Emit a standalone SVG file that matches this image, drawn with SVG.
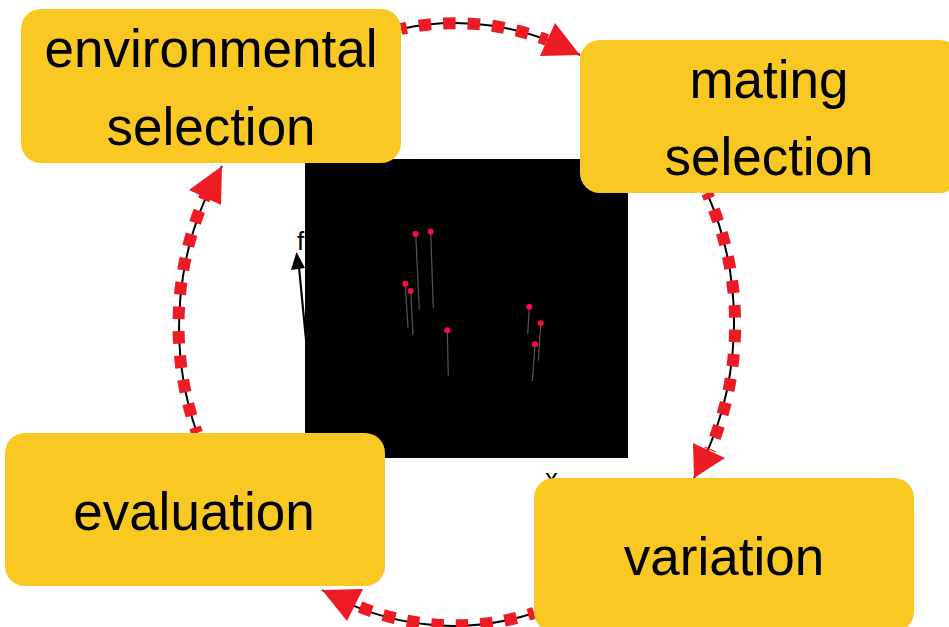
<svg xmlns="http://www.w3.org/2000/svg" width="949" height="627" viewBox="0 0 949 627">
<style>
.box{fill:#F9C822;}
.lbl{font-family:"Liberation Sans",Arial,sans-serif;font-size:53px;fill:#000;text-anchor:middle;}
.ax{font-family:"Liberation Sans",Arial,sans-serif;font-size:26px;fill:#000;}
.line{fill:none;stroke:#000;stroke-width:2;}
.dash{fill:none;stroke:#ED1C24;stroke-width:12;stroke-dasharray:12.5 12;stroke-dashoffset:6.5;}
.head{fill:#ED1C24;}
.stem{stroke:#555;stroke-width:1.2;}
.dot{fill:#FF0844;}
</style>
<rect width="949" height="627" fill="#fff"/>
<g id="connectors">
  <path class="line" d="M401,29 A278,301 0 0 1 580,55"/>
  <path class="dash" d="M401,29 A278,301 0 0 1 547,40"/>
  <polygon class="head" points="580,55 555,23 540,56"/>

  <path class="line" d="M707,193 A278,301 0 0 1 694,478"/>
  <path class="dash" d="M707,193 A278,301 0 0 1 710,450"/>
  <polygon class="head" points="694,478 693,443 725,458"/>

  <path class="line" d="M534,613 A278,301 0 0 1 322,590"/>
  <path class="dash" d="M534,613 A278,301 0 0 1 355,605"/>
  <polygon class="head" points="322,590 363,589 347,621"/>

  <path class="line" d="M197,433 A278,301 0 0 1 222,166"/>
  <path class="dash" d="M197,433 A278,301 0 0 1 205,197"/>
  <polygon class="head" points="222,166 189,190 221,205"/>
</g>
<g id="plot">
  <line x1="307" y1="350" x2="298.5" y2="262" stroke="#000" stroke-width="2.2"/>
  <polygon points="296.5,252 291,270 305,268" fill="#000"/>
  <text class="ax" x="297" y="250">f</text>
  <text class="ax" x="545" y="487">x</text>
  <rect x="305" y="159" width="323" height="299" fill="#000"/>
  <line class="stem" x1="415.7" y1="234" x2="419.3" y2="310"/>
  <line class="stem" x1="430.7" y1="231.7" x2="433.3" y2="308.3"/>
  <line class="stem" x1="405.3" y1="283.7" x2="408" y2="327.7"/>
  <line class="stem" x1="410.7" y1="291" x2="413" y2="335"/>
  <line class="stem" x1="447.3" y1="330.3" x2="448.3" y2="375.7"/>
  <line class="stem" x1="529.3" y1="306.7" x2="527.7" y2="334.3"/>
  <line class="stem" x1="540.7" y1="323.3" x2="538.3" y2="360.7"/>
  <line class="stem" x1="535" y1="344.3" x2="532.3" y2="381"/>
  <circle class="dot" cx="415.7" cy="234" r="3"/>
  <circle class="dot" cx="430.7" cy="231.7" r="3"/>
  <circle class="dot" cx="405.3" cy="283.7" r="3"/>
  <circle class="dot" cx="410.7" cy="291" r="3"/>
  <circle class="dot" cx="447.3" cy="330.3" r="3"/>
  <circle class="dot" cx="529.3" cy="306.7" r="3"/>
  <circle class="dot" cx="540.7" cy="323.3" r="3"/>
  <circle class="dot" cx="535" cy="344.3" r="3"/>
</g>
<g id="env-selection">
  <rect class="box" x="21" y="9" width="380" height="154" rx="20"/>
  <text class="lbl" x="211" y="67">environmental</text>
  <text class="lbl" x="211" y="145">selection</text>
</g>
<g id="mating-selection">
  <rect class="box" x="580" y="40" width="380" height="153" rx="20"/>
  <text class="lbl" x="769" y="98">mating</text>
  <text class="lbl" x="769" y="175">selection</text>
</g>
<g id="evaluation">
  <rect class="box" x="5" y="433" width="380" height="153" rx="20"/>
  <text class="lbl" x="194" y="530">evaluation</text>
</g>
<g id="variation">
  <rect class="box" x="534" y="478" width="380" height="154" rx="20"/>
  <text class="lbl" x="724" y="575">variation</text>
</g>
</svg>
